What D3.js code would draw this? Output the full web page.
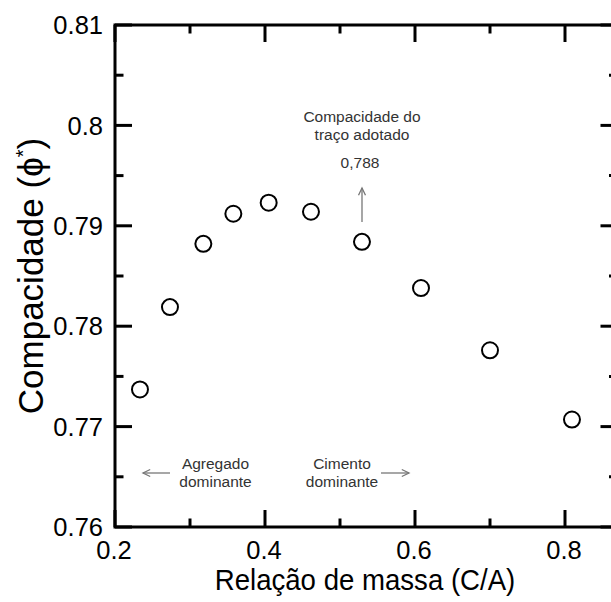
<!DOCTYPE html>
<html><head><meta charset="utf-8">
<script src="https://cdn.jsdelivr.net/npm/d3@7"></script>
<style>html,body{margin:0;padding:0;background:#fff;overflow:hidden}</style>
</head><body>
<script>
const xValues = [0.2333, 0.2733, 0.3178, 0.3578, 0.4049, 0.4613, 0.5293, 0.608, 0.700, 0.8093];
const yValues = [0.7737, 0.7819, 0.7882, 0.7912, 0.7923, 0.7914, 0.7884, 0.7838, 0.7776, 0.7707];
const xMajorTicks = [0.2, 0.4, 0.6, 0.8];
const xMinorTicks = [0.3, 0.5, 0.7];
const yMajorTicks = [0.76, 0.77, 0.78, 0.79, 0.80, 0.81];
const yMinorTicks = [0.765, 0.775, 0.785, 0.795, 0.805];
const xTickLabels = ["0.2", "0.4", "0.6", "0.8"];
const yTickLabels = ["0.76", "0.77", "0.78", "0.79", "0.8", "0.81"];

const W = 611, H = 602;
const L = 115, R = 617.5, T = 25, B = 527;
const svg = d3.select("body").append("svg").attr("width", W).attr("height", H);
const x = d3.scaleLinear().domain([0.2, 0.87]).range([L, R]);
const y = d3.scaleLinear().domain([0.76, 0.81]).range([B, T]);
const font = "'Liberation Sans', Arial, sans-serif";

const gAx = svg.append("g").attr("stroke", "#000").attr("stroke-width", 3).attr("fill", "none");
gAx.append("rect").attr("x", L).attr("y", T).attr("width", R - L).attr("height", B - T);
const maj = 17, mn = 8.5;
xMajorTicks.forEach(v => {
  gAx.append("line").attr("x1", x(v)).attr("x2", x(v)).attr("y1", B).attr("y2", B - maj);
  gAx.append("line").attr("x1", x(v)).attr("x2", x(v)).attr("y1", T).attr("y2", T + maj);
});
xMinorTicks.forEach(v => {
  gAx.append("line").attr("x1", x(v)).attr("x2", x(v)).attr("y1", B).attr("y2", B - mn);
  gAx.append("line").attr("x1", x(v)).attr("x2", x(v)).attr("y1", T).attr("y2", T + mn);
});
yMajorTicks.forEach(v => {
  gAx.append("line").attr("y1", y(v)).attr("y2", y(v)).attr("x1", L).attr("x2", L + maj);
  gAx.append("line").attr("y1", y(v)).attr("y2", y(v)).attr("x1", R).attr("x2", R - maj);
});
yMinorTicks.forEach(v => {
  gAx.append("line").attr("y1", y(v)).attr("y2", y(v)).attr("x1", L).attr("x2", L + mn);
  gAx.append("line").attr("y1", y(v)).attr("y2", y(v)).attr("x1", R).attr("x2", R - mn);
});

svg.append("g").selectAll("text").data(xMajorTicks).join("text")
  .attr("x", d => x(d) - 1).attr("y", 559).attr("text-anchor", "middle")
  .attr("font-family", font).attr("font-size", 25.5).attr("fill", "#000")
  .text((d, i) => xTickLabels[i]);
svg.append("g").selectAll("text").data(yMajorTicks).join("text")
  .attr("x", 103).attr("y", d => y(d)).attr("dy", "0.36em").attr("text-anchor", "end")
  .attr("font-family", font).attr("font-size", 25.5).attr("fill", "#000")
  .text((d, i) => yTickLabels[i]);

svg.append("text").attr("transform", "translate(365,590) scale(0.92,1)").attr("text-anchor", "middle")
  .attr("font-family", font).attr("font-size", 30).attr("fill", "#000")
  .text("Relação de massa (C/A)");
const yt = svg.append("text").attr("transform", "translate(43,276) rotate(-90)")
  .attr("text-anchor", "middle").attr("font-family", font).attr("font-size", 35).attr("fill", "#000");
yt.append("tspan").text("Compacidade (ϕ");
yt.append("tspan").attr("dy", -13).attr("font-size", 20).text("*");
yt.append("tspan").attr("dy", 13).text(")");

svg.append("g").selectAll("circle").data(xValues).join("circle")
  .attr("cx", d => x(d)).attr("cy", (d, i) => y(yValues[i])).attr("r", 8)
  .attr("fill", "#fff").attr("stroke", "#000").attr("stroke-width", 2);

// annotations
const ann = svg.append("g").attr("font-family", font).attr("font-size", 15.5).attr("fill", "#333").attr("text-anchor", "middle");
ann.append("text").attr("x", 362).attr("y", 122).text("Compacidade do");
ann.append("text").attr("x", 362).attr("y", 140).text("traço adotado");
ann.append("text").attr("x", 360).attr("y", 168).text("0,788");
ann.append("text").attr("x", 215.5).attr("y", 469).text("Agregado");
ann.append("text").attr("x", 215.5).attr("y", 487).text("dominante");
ann.append("text").attr("x", 342).attr("y", 469).text("Cimento");
ann.append("text").attr("x", 342).attr("y", 487).text("dominante");

const ar = svg.append("g").attr("stroke", "#777").attr("stroke-width", 1.3).attr("fill", "none");
function arrow(x1, y1, x2, y2) {
  ar.append("line").attr("x1", x1).attr("y1", y1).attr("x2", x2).attr("y2", y2);
  const a = Math.atan2(y2 - y1, x2 - x1), s = 8, w = 0.45;
  const p = [[x2 - s * Math.cos(a - w), y2 - s * Math.sin(a - w)], [x2, y2], [x2 - s * Math.cos(a + w), y2 - s * Math.sin(a + w)]];
  ar.append("path").attr("d", d3.line()(p));
}
arrow(362, 222, 362, 188);
arrow(170, 473, 143, 473);
arrow(381, 473, 409, 473);
</script>
</body></html>
